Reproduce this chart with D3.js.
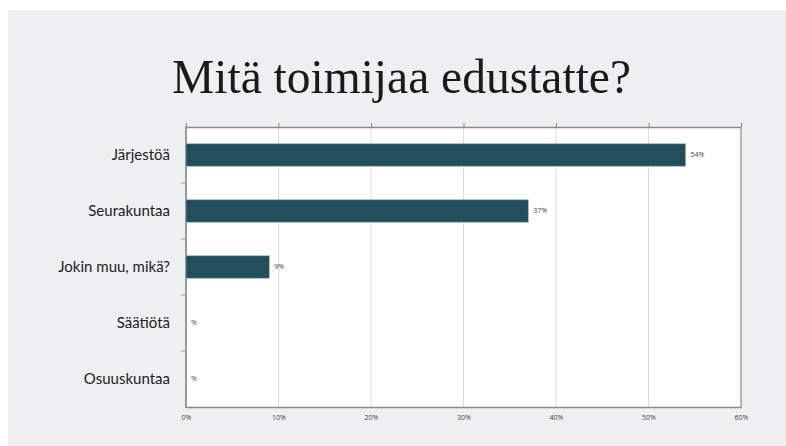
<!DOCTYPE html>
<html>
<head>
<meta charset="utf-8">
<script src="https://cdn.jsdelivr.net/npm/d3@7"></script>
<style>
  html, body { margin: 0; padding: 0; background: #ffffff; }
  svg { display: block; }
</style>
</head>
<body>
<svg id="chart" width="786" height="446"></svg>
<script>
// Survey answers: share of respondents per organisation type
const categories = ["Järjestöä", "Seurakuntaa", "Jokin muu, mikä?", "Säätiötä", "Osuuskuntaa"];
const values = [54, 37, 9, null, null];          // percent; null = no answers
const xTicks = [0, 10, 20, 30, 40, 50, 60];
const title = "Mitä toimijaa edustatte?";

const svg = d3.select("#chart");
const W = 786, H = 446;

// slide background
svg.append("rect").attr("x", 8).attr("y", 10).attr("width", W - 8).attr("height", H - 10)
  .attr("fill", "#efeff1");

// title
svg.append("text")
  .attr("x", 172).attr("y", 93)
  .attr("font-family", "'Liberation Serif', 'DejaVu Serif', serif")
  .attr("font-size", 49)
  .attr("fill", "#1a1a1a")
  .attr("textLength", 459)
  .attr("lengthAdjust", "spacingAndGlyphs")
  .text(title);

const m = { left: 186, right: 741, top: 127, bottom: 407 };

const x = d3.scaleLinear().domain([0, 60]).range([m.left, m.right]);
const y = d3.scaleBand().domain(categories).range([m.top, m.bottom]).paddingInner(0.6).paddingOuter(0.3);
const yb = d3.scaleBand().domain(categories).range([m.top, m.bottom]);

// plot area
svg.append("rect").attr("x", m.left).attr("y", m.top)
  .attr("width", m.right - m.left).attr("height", m.bottom - m.top)
  .attr("fill", "#ffffff");

// vertical gridlines
svg.append("g").selectAll("line").data(xTicks.filter(t => t > 0 && t < 60)).join("line")
  .attr("x1", d => x(d)).attr("x2", d => x(d))
  .attr("y1", m.top).attr("y2", m.bottom)
  .attr("stroke", "#dcdcdc").attr("stroke-width", 1);

// top axis (ticks only, pointing up)
const topAxis = svg.append("g").attr("transform", `translate(0,${m.top})`)
  .call(d3.axisTop(x).tickValues(xTicks).tickSize(4).tickSizeOuter(0).tickFormat(""));
topAxis.select(".domain").attr("stroke", "#8a8a8a").attr("stroke-width", 1.5);
topAxis.selectAll(".tick line").attr("stroke", "#8a8a8a");

// bottom axis with percentage labels
const bottomAxis = svg.append("g").attr("transform", `translate(0,${m.bottom})`)
  .call(d3.axisBottom(x).tickValues(xTicks).tickSize(0).tickPadding(8).tickFormat(d => d + "%"));
bottomAxis.select(".domain").attr("stroke", "#8a8a8a").attr("stroke-width", 1.5);
bottomAxis.selectAll("text")
  .attr("font-family", "'Open Sans', 'DejaVu Sans', sans-serif")
  .attr("font-size", 7).attr("fill", "#444");

// right border
svg.append("line").attr("x1", m.right).attr("x2", m.right)
  .attr("y1", m.top).attr("y2", m.bottom)
  .attr("stroke", "#a0a0a0").attr("stroke-width", 1.5);

// left axis: band boundary ticks and category names
const leftAxis = svg.append("g").attr("transform", `translate(${m.left},0)`);
leftAxis.append("line").attr("x1", 0).attr("x2", 0).attr("y1", m.top - 1).attr("y2", m.bottom + 1)
  .attr("stroke", "#9a9a9a").attr("stroke-width", 2);
leftAxis.selectAll("line.tk").data(categories.slice(1)).join("line").attr("class", "tk")
  .attr("x1", -5).attr("x2", 0)
  .attr("y1", d => yb(d)).attr("y2", d => yb(d))
  .attr("stroke", "#9a9a9a");
leftAxis.selectAll("text").data(categories).join("text")
  .attr("x", -16).attr("y", d => yb(d) + yb.bandwidth() / 2)
  .attr("dy", "0.35em").attr("text-anchor", "end")
  .attr("font-family", "Lato, 'Open Sans', sans-serif")
  .attr("font-size", 15).attr("fill", "#222")
  .text(d => d);

// bars
svg.append("g").selectAll("rect").data(categories).join("rect")
  .attr("x", x(0))
  .attr("y", d => y(d))
  .attr("width", (d, i) => x(values[i] || 0) - x(0))
  .attr("height", y.bandwidth())
  .attr("fill", "#234e5c")
  .attr("stroke", "#8fa9b2").attr("stroke-width", (d, i) => values[i] ? 0.6 : 0);

// value labels
svg.append("g").selectAll("text").data(categories).join("text")
  .attr("x", (d, i) => x(values[i] || 0) + 5)
  .attr("y", d => y(d) + y.bandwidth() / 2)
  .attr("dy", "0.35em")
  .attr("font-family", "'Open Sans', 'DejaVu Sans', sans-serif")
  .attr("font-size", 7).attr("fill", "#444")
  .text((d, i) => (values[i] == null ? "" : values[i]) + "%");
</script>
</body>
</html>
